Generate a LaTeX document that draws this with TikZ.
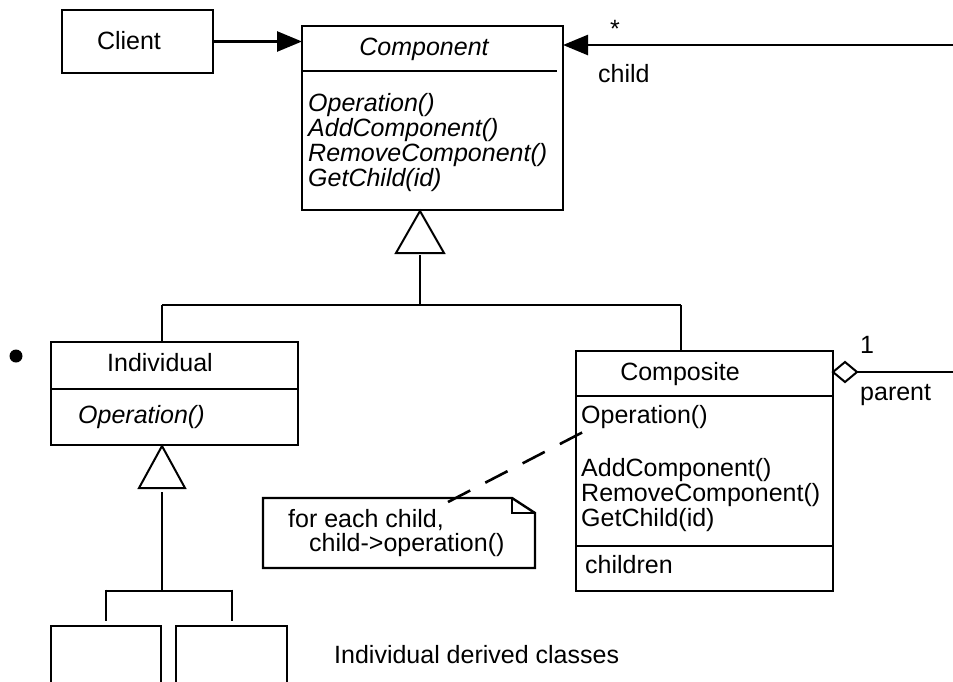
\documentclass[tikz,border=0pt]{standalone}
\usepackage{fontspec}
\setmainfont{Liberation Sans}
\usetikzlibrary{positioning, calc}
\usetikzlibrary{arrows.meta}

\tikzset{
  umlbox/.style={draw, line width=2.6pt, inner sep=0pt, outer sep=0pt, anchor=north west},
  umltext/.style={inner sep=0pt, font=\fontsize{25pt}{25pt}\selectfont},
  conn/.style={line width=2.6pt},
  gen/.style={line width=2pt, line join=miter},
  assoc/.style={-{Triangle[length=25pt, width=20pt]}},
}

\begin{document}
\begin{tikzpicture}[x=1pt, y=-1pt]
\useasboundingbox (0,0) rectangle (953,681);

%------------------------------------------------
% Client e Component
%------------------------------------------------
\node[umlbox, minimum width=151pt, minimum height=63pt] (client) at (62,10) {};
\node[umltext, anchor=base] (clientName) at (129,49) {Client};

\node[umlbox, minimum width=261pt, minimum height=184pt] (component) at (302,26) {};
\draw[conn] (302,71) -- (557,71);
\node[umltext, anchor=base] (componentName) at (424,55) {\itshape Component};
\node[umltext, anchor=base west] (compOp1) at (308,111) {\itshape Operation()};
\node[umltext, anchor=base west] (compOp2) at (308,136) {\itshape AddComponent()};
\node[umltext, anchor=base west] (compOp3) at (308,161) {\itshape RemoveComponent()};
\node[umltext, anchor=base west] (compOp4) at (308,186) {\itshape GetChild(id)};

% Associazioni
\draw[conn, assoc] (client.east) -- (client.east -| component.west);
\coordinate (childEnd) at (953,45);
\draw[conn, assoc] (childEnd) -- (childEnd -| component.east);
\node[umltext, anchor=base] (childMult) at (615,37) {*};
\node[umltext, anchor=base west] (childRole) at (598,82) {child};

%------------------------------------------------
% Generalizzazione verso Component
%------------------------------------------------
\coordinate (compTip) at (420,211);
\draw[gen] (compTip) -- (444,253) -- (396,253) -- cycle;
\coordinate (compJoin) at (420,305);
\draw[conn] (420,255) -- (compJoin);
\draw[conn] (162,305) -- (681,305);

%------------------------------------------------
% Individual
%------------------------------------------------
\node[umlbox, minimum width=247pt, minimum height=103pt] (individual) at (51,342) {};
\draw[conn] (51,389) -- (299,389);
\node[umltext, anchor=base] (individualName) at (160,371) {Individual};
\node[umltext, anchor=base west] (indivOp) at (78,423) {\itshape Operation()};
\draw[conn] (162,305) -- (162,342);
\fill (16,356) circle (6.5pt);

% Classi derivate
\coordinate (indivTip) at (162,446);
\draw[gen] (indivTip) -- (185,488) -- (139,488) -- cycle;
\draw[conn] (162,492) -- (162,591);
\draw[conn] (106,591) -- (232,591);
\draw[conn] (106,589.7) -- (106,621);
\draw[conn] (232,589.7) -- (232,621);
\draw[conn] (51,690) -- (51,626) -- (161,626) -- (161,690);
\draw[conn] (176,690) -- (176,626) -- (287,626) -- (287,690);
\node[umltext, anchor=base west] (derivedLabel) at (334,663) {Individual derived classes};

%------------------------------------------------
% Composite
%------------------------------------------------
\node[umlbox, minimum width=257pt, minimum height=240pt] (composite) at (576,351) {};
\draw[conn] (576,396) -- (833,396);
\draw[conn] (576,546) -- (833,546);
\node[umltext, anchor=base] (compositeName) at (680,380) {Composite};
\node[umltext, anchor=base west] (compositeOp1) at (581,423) {Operation()};
\node[umltext, anchor=base west] (compositeOp2) at (581,476) {AddComponent()};
\node[umltext, anchor=base west] (compositeOp3) at (581,501) {RemoveComponent()};
\node[umltext, anchor=base west] (compositeOp4) at (581,526) {GetChild(id)};
\node[umltext, anchor=base west] (compositeAttr) at (585,573) {children};
\draw[conn] (681,305) -- (681,351);

% Aggregazione parent
\draw[gen] (833,372) -- (845,362) -- (857,372) -- (845,382) -- cycle;
\coordinate (parentEnd) at (953,372);
\draw[conn] (857,372) -- (parentEnd);
\node[umltext, anchor=base west] (parentMult) at (860,353) {1};
\node[umltext, anchor=base west] (parentRole) at (860,400) {parent};

%------------------------------------------------
% Nota
%------------------------------------------------
\node[minimum width=272pt, minimum height=70pt, inner sep=0pt, outer sep=0pt, anchor=north west] (note) at (263,498) {};
\draw[gen, line width=2.4pt] (note.north west) -- ($(note.north east)+(-23,0)$) -- ($(note.north east)+(0,15)$)
  -- (note.south east) -- (note.south west) -- cycle;
\draw[gen] ($(note.north east)+(-23,0)$) -- ($(note.north east)+(-23,15)$) -- ($(note.north east)+(0,15)$);
\node[umltext, anchor=base west] (noteLine1) at (288,527) {for each child,};
\node[umltext, anchor=base west] (noteLine2) at (309,551) {child->operation()};
\coordinate (noteTop) at (448,502);
\draw[conn, dash pattern=on 25pt off 17pt] (noteTop) -- ($(compositeOp1.base west)+(4,8)$);
\end{tikzpicture}
\end{document}
